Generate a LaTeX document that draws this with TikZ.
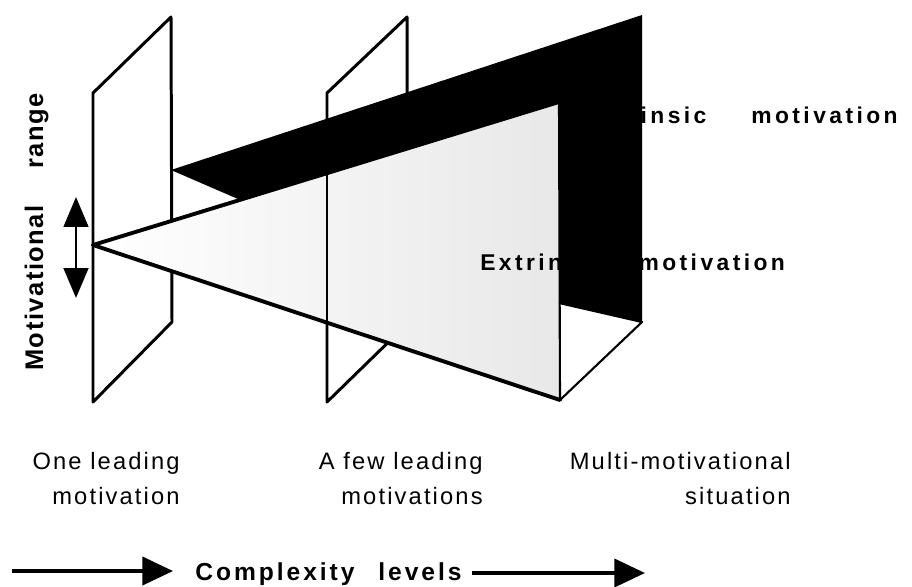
\documentclass[tikz,border=0pt]{standalone}
\usepackage{fontspec}
\setmainfont{Liberation Sans}
\newfontfamily\lblfont[LetterSpace=9]{Liberation Sans}
\newfontfamily\keyfont[LetterSpace=15]{Liberation Sans}
\newfontfamily\axisfont[LetterSpace=6]{Liberation Sans}
\newfontfamily\cxfont[LetterSpace=12]{Liberation Sans}
\usetikzlibrary{arrows.meta,calc}
\begin{document}
\begin{tikzpicture}[x=0.02cm, y=-0.02cm,
    panel/.style={draw, fill=white, line width=1.7pt, line join=round},
    coneline/.style={line width=2.2pt, line cap=round},
    faceline/.style={line width=1.2pt, line join=round},
    bigarrow/.style={line width=2.2pt, -{Triangle[length=17.5pt,width=16pt]}},
    spanarrow/.style={line width=1.5pt, {Triangle[length=17pt,width=14pt]}-{Triangle[length=17pt,width=14pt]}},
    level/.style={font=\lblfont\fontsize{13.5}{19.8}\selectfont, align=right, inner sep=0, anchor=north east},
    key/.style={font=\keyfont\fontsize{13}{15}\selectfont\bfseries, inner sep=0},
    vlabel/.style={font=\axisfont\fontsize{14.5}{16}\selectfont\bfseries, rotate=90, anchor=base, inner sep=0}]
\useasboundingbox (0,0) rectangle (912,586);

% panels
\coordinate (la) at (93,93);  \coordinate (lb) at (171,17);
\coordinate (lc) at (172,322); \coordinate (ld) at (93,402);
\coordinate (ma) at (327,93); \coordinate (mb) at (407,17);
\coordinate (mc) at (407,324); \coordinate (md) at (327,402);
\draw[panel] (la) -- (lb) -- (lc) -- (ld) -- cycle;
\draw[panel] (ma) -- (mb) -- (mc) -- (md) -- cycle;

% cone
\coordinate (apex) at (93,245);
\coordinate (ft) at (559,102);
\coordinate (fb) at (560,400);
\fill[left color=white, right color=black!9] (apex) -- (ft) -- (fb) -- cycle;

\node[key, anchor=base west] (ext) at (480,270) {Extrinsic\hspace{14pt} motivation};
\node[key, anchor=base east] (int) at (898,123) {Intrinsic\hspace{20pt} motivation};

% dark band
\coordinate (bt) at (171,170);
\coordinate (bb) at ($(apex)!0.3155!(ft)$);
\coordinate (rt) at (642,15);
\coordinate (rb) at (642,322);
\coordinate (fm) at (559,303);
\fill (bt) -- (rt) -- (rb) -- (fm) -- (ft) -- (bb) -- cycle;

\draw[coneline] (apex) -- (ft);
\draw[coneline] (apex) -- (fb);
\draw[faceline] (ft) -- (fb);
\draw[faceline] (fm) -- (rb) -- (fb);
\draw[panel, fill=none] (ma) -- (md);

% motivational range
\node[vlabel] (mot) at (43,288) {Motivational};
\node[vlabel] (rng) at (43,131) {range};
\coordinate (sp1) at (76,197);
\coordinate (sp2) at (76,298);
\draw[spanarrow] (sp1) -- (sp2);

% levels
\node[level] (one) at (180,452) {One leading\\motivation};
\node[level] (few) at (483,452) {A few leading\\motivations};
\node[level] (multi) at (791,452) {Multi-motivational\\situation};

% complexity axis
\node[font=\cxfont\fontsize{14}{16}\selectfont\bfseries, inner sep=0, anchor=base west] (cx) at (195,580) {Complexity\hspace{8pt} levels};
\coordinate (ax1) at (12,571);
\coordinate (ax2) at (645,573);
\draw[bigarrow, shorten >=12.5pt] (ax1) -- (ax1 -| cx.west);
\draw[bigarrow, shorten <=6pt] (cx.east |- ax2) -- (ax2);
\end{tikzpicture}
\end{document}
